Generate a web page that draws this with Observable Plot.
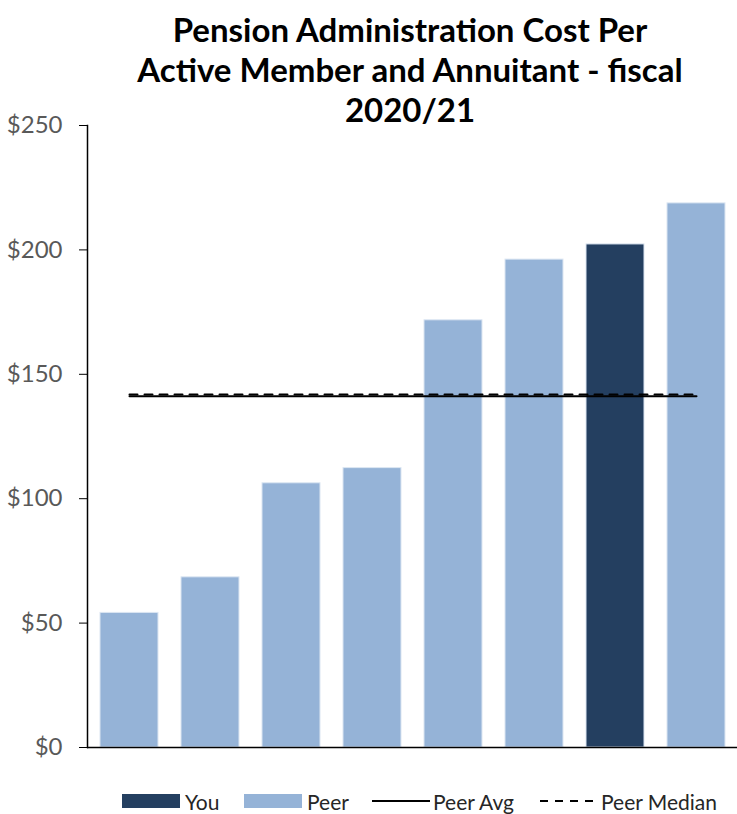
<!DOCTYPE html>
<html>
<head>
<meta charset="utf-8">
<script src="https://cdn.jsdelivr.net/npm/d3@7"></script>
<script src="https://cdn.jsdelivr.net/npm/@observablehq/plot@0.6"></script>
<style>
  body { margin: 0; background: #fff; font-family: Lato, "Open Sans", sans-serif; }
  #wrap { position: relative; width: 737px; height: 814px; }
  #title { position: absolute; left: 70px; width: 680px; top: 9px; text-align: center;
           font-weight: bold; font-size: 33px; line-height: 40px; color: #000; }
  #legend { position: absolute; top: 790px; left: 0; width: 737px; height: 22px; font-size: 21px; color: #262626; }
  .item { position: absolute; top: 0; display: flex; align-items: center; height: 22px; white-space: nowrap; }
  .sw { width: 58px; height: 14px; margin-right: 5px; }
  svg.line-sw { margin-right: 3px; }
</style>
</head>
<body>
<div id="wrap">
  <div id="chart"></div>
  <div id="title">Pension Administration Cost Per<br>Active Member and Annuitant - fiscal<br>2020/21</div>
  <div id="legend"></div>
</div>
<script>
const categories = ["Peer 1", "Peer 2", "Peer 3", "Peer 4", "Peer 5", "Peer 6", "You", "Peer 7"];
const values = [54.1, 68.4, 106.2, 112.3, 171.7, 196.1, 202.2, 218.7];
const groups = ["Peer", "Peer", "Peer", "Peer", "Peer", "Peer", "You", "Peer"];
const peerAvg = 141.2;
const peerMedian = 141.9;
const yTicks = [0, 50, 100, 150, 200, 250];
const colors = { You: "#243F60", Peer: "#95B3D7" };

const bars = categories.map((c, i) => ({ cat: c, value: values[i], group: groups[i] }));
const ends = [categories[0], categories[categories.length - 1]];
const avgLine = ends.map(c => ({ cat: c, y: peerAvg }));
const medLine = ends.map(c => ({ cat: c, y: peerMedian }));

const chart = Plot.plot({
  width: 737,
  height: 760,
  marginTop: 125,
  marginBottom: 13,
  marginLeft: 87,
  marginRight: 0,
  style: { fontFamily: "Lato, 'Open Sans', sans-serif", background: "#fff" },
  x: { domain: categories, paddingInner: 0.285, paddingOuter: 0.1425, axis: null },
  y: { domain: [0, 250], axis: null },
  marks: [
    Plot.barY(bars, { x: "cat", y: "value", fill: d => colors[d.group], stroke: "#dce6f2", strokeWidth: 1 }),
    Plot.line(avgLine, { x: "cat", y: "y", stroke: "#000", strokeWidth: 2 }),
    Plot.line(medLine, { x: "cat", y: "y", stroke: "#000", strokeWidth: 2, strokeDasharray: "8,7" }),
    Plot.axisY({ ticks: yTicks, tickFormat: d => "$" + d, tickSize: 8, tickPadding: 17, fontSize: 24, color: "#000", label: null }),
    Plot.frame({ anchor: "left", stroke: "#000", strokeWidth: 1.5 }),
    Plot.ruleY([0], { stroke: "#000", strokeWidth: 1.5 })
  ]
});
chart.querySelectorAll("g[aria-label='y-axis tick label'] text").forEach(t => t.setAttribute("fill", "#595959"));
const tl = chart.querySelector("g[aria-label='y-axis tick label']");
if (tl) tl.setAttribute("fill", "#595959");
document.getElementById("chart").appendChild(chart);

// legend
const legendItems = [
  { label: "You", kind: "rect", color: colors.You, x: 122 },
  { label: "Peer", kind: "rect", color: colors.Peer, x: 244 },
  { label: "Peer Avg", kind: "line", x: 372 },
  { label: "Peer Median", kind: "dash", x: 540 }
];
const legend = document.getElementById("legend");
legendItems.forEach(it => {
  const div = document.createElement("div");
  div.className = "item";
  div.style.left = it.x + "px";
  if (it.kind === "rect") {
    const s = document.createElement("div");
    s.className = "sw";
    s.style.background = it.color;
    div.appendChild(s);
  } else {
    const ns = "http://www.w3.org/2000/svg";
    const svg = document.createElementNS(ns, "svg");
    svg.setAttribute("width", 58); svg.setAttribute("height", 14);
    svg.setAttribute("class", "line-sw");
    const l = document.createElementNS(ns, "line");
    l.setAttribute("x1", 0); l.setAttribute("x2", 58);
    l.setAttribute("y1", 7); l.setAttribute("y2", 7);
    l.setAttribute("stroke", "#000"); l.setAttribute("stroke-width", 2);
    if (it.kind === "dash") l.setAttribute("stroke-dasharray", "8,7");
    svg.appendChild(l);
    div.appendChild(svg);
  }
  const t = document.createElement("span");
  t.textContent = it.label;
  div.appendChild(t);
  legend.appendChild(div);
});
</script>
</body>
</html>
